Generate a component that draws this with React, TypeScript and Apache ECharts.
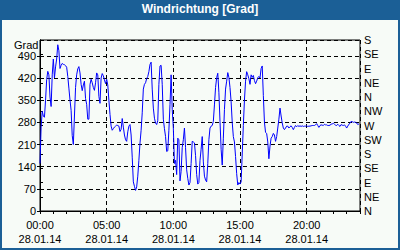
import React, { useEffect, useRef } from "react";
import * as echarts from "echarts";

// 5-minute samples of wind direction (degrees), 28.01.14 00:00 .. 23:55
const windDirection: number[] = [
  150, 265, 315, 300, 296, 350, 415, 441, 430, 360,
  330, 430, 480, 420, 455, 480, 525, 506, 450, 460,
  466, 463, 462, 459, 454, 425, 388, 350, 318, 238,
  210, 300, 390, 430, 449, 456, 436, 400, 380, 398,
  410, 355, 337, 290, 290, 400, 416, 405, 390, 381,
  405, 436, 430, 362, 340, 420, 434, 427, 414, 402,
  416, 398, 350, 305, 268, 255, 260, 265, 268, 271,
  270, 268, 251, 258, 292, 265, 240, 225, 220, 250,
  268, 273, 240, 170, 92, 78, 65, 76, 110, 160,
  215, 255, 310, 385, 400, 405, 418, 425, 440, 463,
  470, 385, 325, 293, 278, 273, 285, 400, 458, 460,
  400, 290, 260, 235, 188, 190, 255, 336, 430, 320,
  262, 150, 160, 115, 230, 225, 95, 125, 200, 225,
  262, 200, 130, 103, 82, 90, 150, 220, 218, 215,
  175, 115, 85, 90, 160, 195, 235, 155, 110, 98,
  92, 150, 225, 262, 268, 270, 283, 335, 390, 421,
  435, 375, 283, 195, 145, 230, 320, 385, 410, 437,
  422, 390, 345, 280, 235, 218, 172, 118, 82, 90,
  85, 92, 180, 270, 350, 410, 440, 430, 418, 400,
  430, 422, 428, 412, 402, 410, 421, 425, 420, 450,
  458, 365, 280, 248, 245, 218, 165, 205, 230, 235,
  245, 240, 220, 235, 262, 290, 325, 300, 278, 262,
  257, 262, 268, 268, 262, 266, 269, 264, 257, 264,
  270, 266, 270, 267, 269, 267, 269, 267, 268, 268,
  269, 267, 268, 268, 269, 270, 270, 270, 272, 276,
  270, 264, 270, 272, 271, 270, 274, 272, 272, 270,
  270, 271, 274, 275, 277, 274, 271, 270, 274, 270,
  267, 273, 271, 270, 272, 268, 262, 268, 274, 277,
  283, 282, 280, 281, 280, 278, 273, 275,
];

const sampleMinutes = 5;
const timeLabels: string[] = ["00:00", "05:00", "10:00", "15:00", "20:00"];
const timeLabelHours: number[] = [0, 5, 10, 15, 20];
const dateLabel = "28.01.14";
const compassLabels: string[] = ["N", "NE", "E", "SE", "S", "SW", "W", "NW", "N", "NE", "E", "SE", "S"];
const chartTitle = "Windrichtung [Grad]";
const unitLabel = "Grad";

const FONT = '"Liberation Sans", Arial, sans-serif';

export default function App() {
  const ref = useRef<HTMLDivElement>(null);

  useEffect(() => {
    document.body.style.margin = "0";
    if (!ref.current) return;
    const chart = echarts.init(ref.current, undefined, { renderer: "svg" });

    const seriesData = windDirection.map((v, i) => [(i * sampleMinutes) / 60, v]);

    chart.setOption({
      animation: false,
      backgroundColor: "#1b5f96",
      textStyle: { fontFamily: FONT },
      title: {
        text: chartTitle,
        left: "center",
        top: 3,
        padding: 0,
        textStyle: { color: "#ffffff", fontSize: 12, fontWeight: "bold", fontFamily: FONT },
      },
      graphic: [
        {
          type: "rect",
          z: -10,
          silent: true,
          shape: { x: 2, y: 20, width: 396, height: 228 },
          style: { fill: "#f7fbf7" },
        },
        {
          type: "text",
          left: 14,
          top: 39,
          style: { text: unitLabel, fill: "#000", fontSize: 11, lineHeight: 11, fontFamily: FONT },
        },
      ],
      grid: {
        left: 40,
        right: 40,
        top: 40,
        bottom: 39,
        show: true,
        borderColor: "#000",
        borderWidth: 1,
        backgroundColor: "transparent",
      },
      xAxis: [
        {
          type: "value",
          min: 0,
          max: 24,
          interval: 1,
          position: "bottom",
          axisLine: { show: true, onZero: false, lineStyle: { color: "#000", width: 1 } },
          axisTick: { show: true, length: 3, lineStyle: { color: "#000" } },
          splitLine: { show: false },
          axisLabel: {
            color: "#000",
            fontSize: 11,
            lineHeight: 14,
            margin: 7,
            fontFamily: FONT,
            formatter: (v: number) => {
              const idx = timeLabelHours.indexOf(v);
              return idx >= 0 ? `${timeLabels[idx]}\n${dateLabel}` : "";
            },
          },
        },
        {
          type: "value",
          min: 0,
          max: 24,
          interval: 5,
          position: "bottom",
          axisLine: { show: false },
          axisTick: { show: false },
          axisLabel: { show: false },
          splitLine: { show: true, lineStyle: { color: "#000", type: [4, 3], width: 1 } },
        },
      ],
      yAxis: [
        {
          type: "value",
          min: 0,
          max: 540,
          interval: 70,
          position: "left",
          axisLine: { show: true, lineStyle: { color: "#000" } },
          axisTick: { show: true, length: 3, lineStyle: { color: "#000" } },
          axisLabel: {
            color: "#000",
            fontSize: 11,
            lineHeight: 11,
            margin: 4,
            fontFamily: FONT,
            showMaxLabel: false,
            formatter: (v: number) => (v > 490 ? "" : String(v)),
          },
          splitLine: { show: true, lineStyle: { color: "#000", type: [4, 3], width: 1 } },
        },
        {
          type: "value",
          min: 0,
          max: 540,
          interval: 45,
          position: "right",
          axisLine: { show: true, lineStyle: { color: "#000" } },
          axisTick: { show: true, length: 3, lineStyle: { color: "#000" } },
          axisLabel: {
            color: "#000",
            fontSize: 11,
            lineHeight: 11,
            margin: 4,
            fontFamily: FONT,
            formatter: (v: number) => compassLabels[Math.round(v / 45)] ?? "",
          },
          splitLine: { show: false },
        },
      ],
      series: [
        {
          type: "line",
          xAxisIndex: 0,
          yAxisIndex: 0,
          data: seriesData,
          showSymbol: false,
          symbol: "none",
          lineStyle: { color: "#0000ff", width: 1 },
          z: 5,
        },
      ],
    });

    return () => chart.dispose();
  }, []);

  return <div ref={ref} style={{ width: 400, height: 250 }} />;
}
